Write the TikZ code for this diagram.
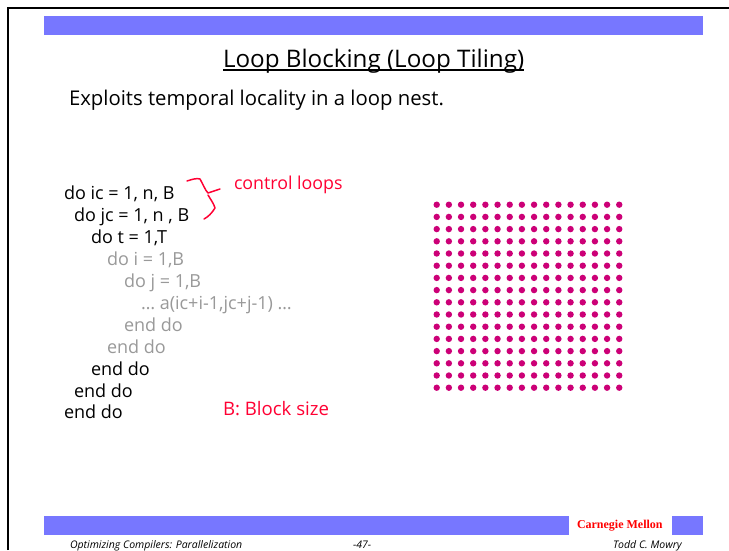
\documentclass[tikz,border=0pt]{standalone}
\usepackage{fontspec}
\setmainfont{Open Sans}
\newfontfamily\cmufont{Liberation Serif}
\definecolor{barblue}{HTML}{7777FF}
\definecolor{penred}{HTML}{FF0033}
\definecolor{dotmag}{HTML}{CC0077}
\definecolor{codegrey}{HTML}{999999}
\tikzset{
  bar/.style={fill=barblue,draw=none},
  txt/.style={anchor=base west,inner sep=0pt,outer sep=0pt},
  codeline/.style={txt,font=\fontsize{18}{21}\selectfont,text=black},
  codegrey/.style={txt,font=\fontsize{18}{21}\selectfont,text=codegrey},
  rednote/.style={txt,font=\fontsize{17.8}{21}\selectfont,text=penred},
  foot/.style={txt,font=\fontsize{10.5}{12}\itshape\selectfont,text=black},
  griddot/.style={circle,fill=dotmag,minimum size=6.4pt,inner sep=0pt,draw=none},
  pen/.style={draw=penred,line width=1.5pt,line join=round,line cap=round}
}
\begin{document}
\begin{tikzpicture}[x=1pt,y=-1pt]
\useasboundingbox[fill=white] (0,0) rectangle (729,550);
% frame
\draw[line width=2.6pt,black] (8,550) -- (8,8) -- (729,8);
% bars
\fill[bar] (44,16) rectangle (703,35);
\fill[bar] (44,516) rectangle (569,535);
\fill[bar] (672,516) rectangle (703,535);
% title
\node[txt,font=\fontsize{24.2}{28}\selectfont] (title) at (223,67) {Loop Blocking (Loop Tiling)};
\draw[line width=2pt] ([yshift=-3pt]title.base west) -- ([yshift=-3pt]title.base east);
\node[txt,font=\fontsize{20.3}{24}\selectfont] (sub) at (69,105) {Exploits temporal locality in a loop nest.};
% code
\node[codeline] (l1) at (64,199) {do ic = 1, n, B};
\node[codeline] (l2) at (74,221) {do jc = 1, n , B};
\node[codeline] (l3) at (91,243) {do t = 1,T};
\node[codegrey] (l4) at (107,265) {do i = 1,B};
\node[codegrey] (l5) at (124,287) {do j = 1,B};
\node[codegrey] (l6) at (141,309) {\ldots{} a(ic+i-1,jc+j-1) \ldots};
\node[codegrey] (l7) at (124,331) {end do};
\node[codegrey] (l8) at (107,353) {end do};
\node[codeline] (l9) at (91,375) {end do};
\node[codeline] (l10) at (74,397) {end do};
\node[codeline] (l11) at (64,418) {end do};
% notes
\node[rednote] (ctl) at (234,189) {control loops};
\node[rednote,font=\fontsize{18.6}{21}\selectfont] (bsz) at (223,415) {B: Block size};
% brace
\draw[pen] (187,181) .. controls (193,179) and (197,178) .. (200,179) .. controls (203,184) and (205,190) .. (208,193) -- (220,189);
\draw[pen] (208,195) .. controls (211,200) and (214,204) .. (215,208) .. controls (212,213) and (208,217) .. (204,219);
% dots
\foreach \r in {0,...,15}
  \foreach \c in {0,...,15}
    \node[griddot] (d\r-\c) at ({436.7+12.17*\c},{204.7+12.2*\r}) {};
% footer
\node[txt,font=\fontsize{12}{14}\bfseries\selectfont\cmufont,text=red] (cmu) at (577,528) {Carnegie Mellon};
\node[foot] (f1) at (70,548) {Optimizing Compilers: Parallelization};
\node[foot] (f2) at (353,548) {-47-};
\node[foot] (f3) at (613,548) {Todd C. Mowry};
\end{tikzpicture}
\end{document}
